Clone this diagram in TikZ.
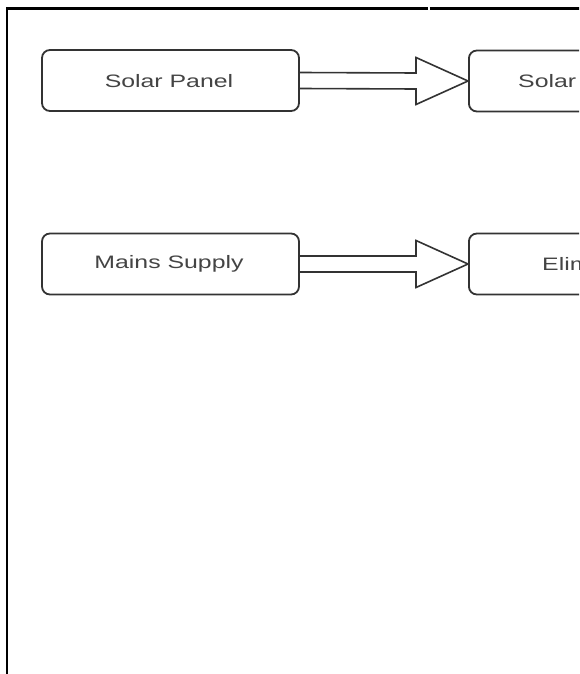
\documentclass[tikz,border=0pt]{standalone}
\usepackage{fontspec}
\newfontfamily\labfont{Liberation Sans}[FakeStretch=1.38]
\usetikzlibrary{calc}
\definecolor{ink}{HTML}{333333}
\definecolor{txt}{HTML}{444444}
\tikzset{
  box/.style={draw=ink, line width=1.8pt, rounded corners=8pt, minimum width=257pt, minimum height=61pt, inner sep=0pt},
  lab/.style={text=txt, font=\labfont\fontsize{18}{21}\selectfont, inner sep=0pt},
  blockarrow/.style={draw=ink, line width=1.6pt, line join=miter},
  frame/.style={draw=black, line width=2.2pt}
}
\begin{document}
\begin{tikzpicture}[x=1pt,y=-1pt]
\useasboundingbox (0,0) rectangle (579,674);
\clip (0,0) rectangle (579,674);
\fill[white] (0,0) rectangle (579,674);
% frame
\coordinate (fl) at (7,674);
\coordinate (ftl) at (7,8.5);
\coordinate (fg1) at (427.5,8.5);
\coordinate (fg2) at (429.5,8.5);
\coordinate (fr) at (600,8.5);
\draw[frame] (fl) -- (ftl) -- (fg1);
\draw[frame] (fg2) -- (fr);
% boxes
\node[box] (sp) at (170.5,80.5) {};
\node[lab] (sptxt) at (169,81) {Solar Panel};
\node[box, anchor=west] (sc) at (468,81) {};
\node[lab, anchor=west] (sctxt) at (518,81) {Solar};
\node[box] (ms) at (170.5,264) {};
\node[lab] (mstxt) at (169,264) {Mains Supply};
\node[box, anchor=west] (el) at (468,264) {};
\node[lab, anchor=west] (eltxt) at (542,264) {Elim};
% block arrows
\foreach \a/\b in {sp/sc, ms/el}{
  \draw[blockarrow] ([yshift=8pt]\a.east) -- ([xshift=-52pt,yshift=8pt]\b.west)
    -- ([xshift=-52pt,yshift=23.5pt]\b.west) -- (\b.west)
    -- ([xshift=-52pt,yshift=-23.5pt]\b.west) -- ([xshift=-52pt,yshift=-8pt]\b.west)
    -- ([yshift=-8pt]\a.east);
}
\end{tikzpicture}
\end{document}
